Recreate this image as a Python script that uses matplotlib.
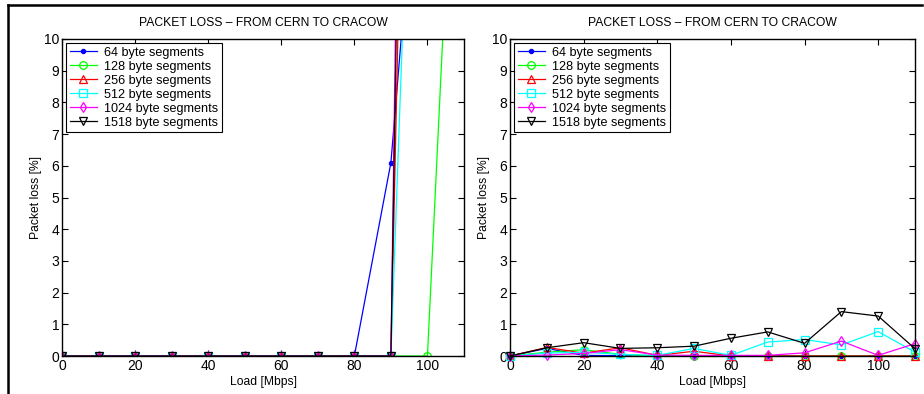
import matplotlib
matplotlib.use("Agg")
import matplotlib.pyplot as plt
from matplotlib.lines import Line2D

plt.rcParams['font.family'] = ['Liberation Sans', 'DejaVu Sans']

load = [0, 10, 20, 30, 40, 50, 60, 70, 80, 90, 100, 110]
labels = ["64 byte segments", "128 byte segments", "256 byte segments",
          "512 byte segments", "1024 byte segments", "1518 byte segments"]

# Left panel (values beyond 10 % are off-scale)
left_64 = [0, 0, 0, 0, 0, 0, 0, 0, 0, 6.1, 20, 30]
left_128 = [0, 0, 0, 0, 0, 0, 0, 0, 0, 0, 0, 24]
left_256 = [0, 0, 0, 0, 0, 0, 0, 0, 0, 0, 53, 60]
left_512 = [0, 0, 0, 0, 0, 0, 0, 0, 0, 0, 32, 50]
left_1024 = [0, 0, 0, 0, 0, 0, 0, 0, 0, 0, 83, 90]
left_1518 = [0, 0, 0, 0, 0, 0, 0, 0, 0, 0, 70, 80]

# Right panel
right_64 = [0, 0.24, 0.02, 0.01, 0.0, 0.0, 0.0, 0.0, 0.0, 0.0, 0.0, 0.0]
right_128 = [0, 0.12, 0.20, 0.05, 0.0, 0.0, 0.0, 0.0, 0.0, 0.0, 0.0, 0.0]
right_256 = [0, 0.27, 0.09, 0.26, 0.02, 0.15, 0.0, 0.0, 0.0, 0.0, 0.0, 0.0]
right_512 = [0, 0.09, 0.12, 0.05, 0.02, 0.24, 0.02, 0.44, 0.52, 0.35, 0.77, 0.12]
right_1024 = [0, 0.03, 0.08, 0.20, 0.03, 0.02, 0.02, 0.02, 0.10, 0.47, 0.02, 0.39]
right_1518 = [0, 0.26, 0.42, 0.24, 0.26, 0.31, 0.56, 0.76, 0.40, 1.40, 1.26, 0.23]

colors = ['#0000ff', '#00ff00', '#ff0000', '#00ffff', '#ff00ff', '#000000']
markers = ['.', 'o', '^', 's', 'd', 'v']

fig = plt.figure(figsize=(9.24, 3.94), dpi=100)

# page frame lines (top and left)
fig.add_artist(Line2D([8/924, 922/924], [1-5/394, 1-5/394], color='black', lw=1.8,
                      transform=fig.transFigure))
fig.add_artist(Line2D([8/924, 8/924], [1-5/394, 0], color='black', lw=1.8,
                      transform=fig.transFigure))

ax1 = fig.add_axes([62/924, 1-356/394, (464-62)/924, (356-39)/394])
ax2 = fig.add_axes([510/924, 1-356/394, (915-510)/924, (356-39)/394])

left = [left_64, left_128, left_256, left_512, left_1024, left_1518]
right = [right_64, right_128, right_256, right_512, right_1024, right_1518]

for ax, series, clip in ((ax1, left, True), (ax2, right, False)):
    for vals, c, m, lab in zip(series, colors, markers, labels):
        ms = 6 if m == '.' else 5.5
        ax.plot(load, vals, color=c, marker=m, markersize=ms, lw=0.9,
                markerfacecolor=c if m == '.' else 'none', markeredgecolor=c,
                markeredgewidth=0.9, label=lab, clip_on=clip)
    ax.set_xlim(0, 110)
    ax.set_ylim(0, 10)
    ax.set_xticks([0, 20, 40, 60, 80, 100])
    ax.set_yticks(range(0, 11))
    ax.tick_params(direction='in', top=True, right=True, labelsize=10, length=4,
                   width=0.8, pad=2)
    for s in ax.spines.values():
        s.set_linewidth(1.0)
    ax.set_title("PACKET LOSS \u2013 FROM CERN TO CRACOW", fontsize=8.7, pad=9)
    ax.set_ylabel("Packet loss [%]", fontsize=8.7, labelpad=1)
    ax.set_xlabel("Load [Mbps]", fontsize=8.7, labelpad=2)
    leg = ax.legend(loc='upper left', fontsize=9.1, labelspacing=0.16,
                    handlelength=2.2, handletextpad=0.5, borderpad=0.3,
                    borderaxespad=0.3, fancybox=False, framealpha=1,
                    edgecolor='black')
    leg.get_frame().set_linewidth(0.8)
    leg.set_zorder(5)

fig.savefig("out.png", dpi=100)
